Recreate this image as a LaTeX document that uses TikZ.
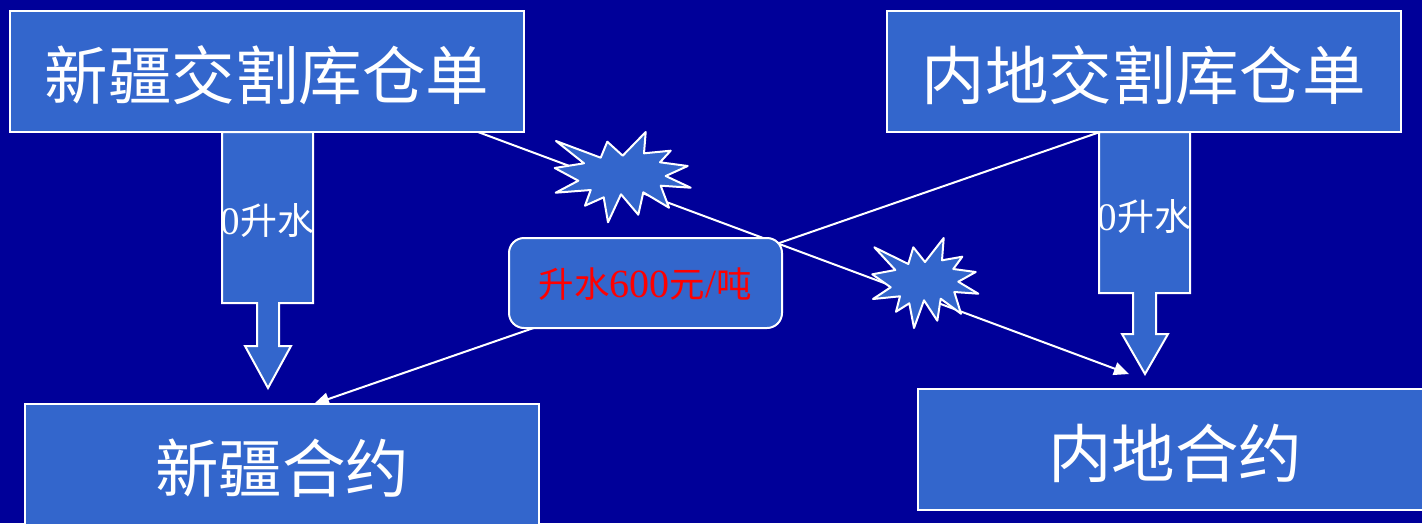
\documentclass[tikz,border=0pt]{standalone}
\usepackage{fontspec}
\setmainfont{Liberation Serif}
\newfontfamily\cjk{Noto Sans CJK SC}
\usetikzlibrary{calc}
\definecolor{bgblue}{HTML}{000099}
\definecolor{boxblue}{HTML}{3366CC}
\tikzset{
  shapeline/.style={draw=white,line width=2pt,fill=boxblue,line join=miter},
  starline/.style={shapeline,line join=round},
  bigbox/.style={shapeline,minimum width=514pt,minimum height=121pt,inner sep=0pt,text=white,
    font=\cjk\fontsize{63.5}{64}\selectfont,text height=62pt,text depth=6pt},
  arrowlabel/.style={inner sep=0pt,text=white,font=\fontsize{39}{39}\selectfont},
  linkline/.style={draw=white,line width=2pt},
  linktip/.style={fill=white,draw=none}
}
\begin{document}
\begin{tikzpicture}[x=1pt,y=-1pt]
\useasboundingbox[fill=bgblue] (0,0) rectangle (1422,523);
% link line end points
\coordinate (a1) at (478,132);
\coordinate (a2) at (1129,374);
\coordinate (b1) at (1100,132);
\coordinate (b2) at (314,404);
\draw[linkline] (a1) -- ($(a2)!12pt!(a1)$);
\fill[linktip] (a2) -- ($(a2)!16.5pt!24:(a1)$) -- ($(a2)!16.5pt!-24:(a1)$) -- cycle;
\draw[linkline] (b1) -- ($(b2)!12pt!(b1)$);
\fill[linktip] (b2) -- ($(b2)!16.5pt!24:(b1)$) -- ($(b2)!16.5pt!-24:(b1)$) -- cycle;
% block arrows
\draw[shapeline] (222,132) -- (313,132) -- (313,303) -- (279,303) -- (279,346) -- (291,346) -- (268,388) -- (245,346) -- (257,346) -- (257,303) -- (222,303) -- cycle;
\draw[shapeline] (1099,132) -- (1190,132) -- (1190,293) -- (1156,293) -- (1156,334) -- (1168,334) -- (1145,374) -- (1122,334) -- (1133,334) -- (1133,293) -- (1099,293) -- cycle;
\node[arrowlabel] (lbl1) at (267.5,221) {0{\cjk\fontsize{37}{37}\selectfont 升水}};
\node[arrowlabel] (lbl2) at (1144.5,217) {0{\cjk\fontsize{37}{37}\selectfont 升水}};
% boxes
\node[bigbox] (xjcd) at (267,71.5) {新疆交割库仓单};
\node[bigbox] (ndcd) at (1144,71.5) {内地交割库仓单};
\node[bigbox] (xjhy) at (282,464.5) {新疆合约};
\node[bigbox] (ndhy) at (1175,449.5) {内地合约};
% rounded box
\node[shapeline,rounded corners=15pt,minimum width=273pt,minimum height=90pt,inner sep=0pt,text=red,font=\fontsize{40}{40}\selectfont] (up) at (645.5,283) {\raisebox{-14pt}[0pt][0pt]{{\cjk\fontsize{35.5}{36}\selectfont 升水}600{\cjk\fontsize{35.5}{36}\selectfont 元}/{\cjk\fontsize{35.5}{36}\selectfont 吨}}};
% stars
\draw[starline] (556,141) -- (600.7,157.7) -- (607.3,141.7) -- (622.7,155.7) -- (645.7,132) -- (644,153.3) -- (670.7,150.7) -- (660,162.3) -- (687.7,166) -- (665.7,176) -- (690.7,187.7) -- (660.7,185.7) -- (669,207.7) -- (643.3,192.3) -- (638.3,214.7) -- (621,194.3) -- (608,222.3) -- (603.7,197.3) -- (585,205.7) -- (590.7,190) -- (555.7,192.7) -- (578.3,180.7) -- (554.7,168) -- (584,163.3) -- cycle;
\draw[starline] (874.3,247.3) -- (908.3,264) -- (913.3,247.3) -- (925,262) -- (943.7,238) -- (942,260.3) -- (962.3,256.7) -- (953.3,269) -- (975.7,272) -- (958.3,281.7) -- (978.3,293.7) -- (954.3,292) -- (961,313.7) -- (940.7,298.7) -- (937.3,320.7) -- (924,300.3) -- (914,328) -- (909.3,303.3) -- (896,311.7) -- (900,296.3) -- (873,299) -- (890.7,287.3) -- (872.3,274.3) -- (895.3,270) -- cycle;
\end{tikzpicture}
\end{document}
